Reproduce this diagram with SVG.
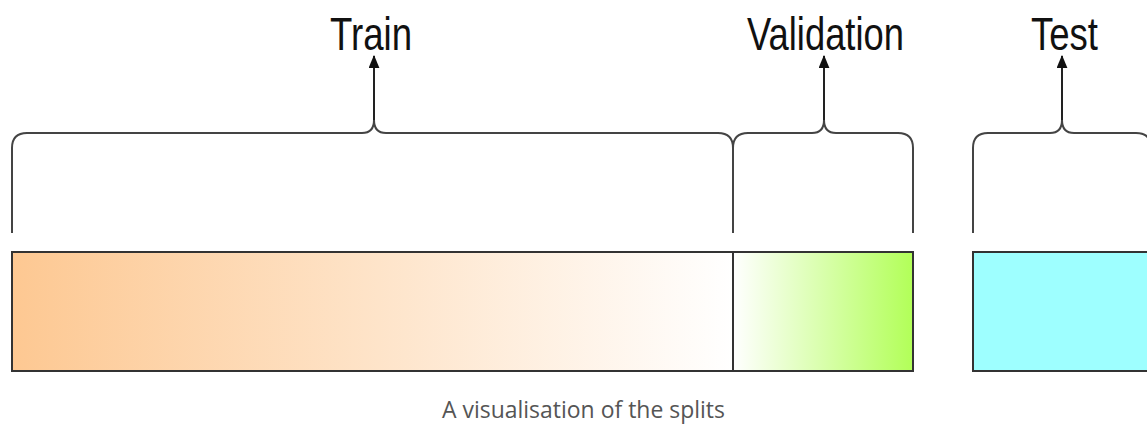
<svg xmlns="http://www.w3.org/2000/svg" width="1147" height="436" viewBox="0 0 1147 436">
  <style>
    .brace { fill: none; stroke: #444; stroke-width: 2; }
    .arrow { fill: none; stroke: #222; stroke-width: 2; }
    .box { stroke: #333; stroke-width: 2; }
    .label { font-family: "Liberation Sans", Arial, sans-serif; font-size: 47px; fill: #111; }
    .caption { font-family: "Open Sans", "Noto Sans", sans-serif; font-size: 23px; fill: #555; }
  </style>
  <defs>
    <linearGradient id="gTrain" x1="0" y1="0" x2="1" y2="0">
      <stop offset="0" stop-color="#FDC892"/>
      <stop offset="1" stop-color="#FFFFFF"/>
    </linearGradient>
    <linearGradient id="gVal" x1="0" y1="0" x2="1" y2="0">
      <stop offset="0" stop-color="#FFFFFF"/>
      <stop offset="1" stop-color="#B2FF58"/>
    </linearGradient>
    <marker id="ah" viewBox="0 0 12 10" refX="11" refY="5" markerWidth="13" markerHeight="11" markerUnits="userSpaceOnUse" orient="auto">
      <path d="M0,0 L12,5 L0,10 Z" fill="#111"/>
    </marker>
  </defs>

  <g id="connectors">
    <path class="brace" d="M12,233 V148 Q12,133 27,133 H362 Q374,133 374,120 Q374,133 386,133 H718 Q733,133 733,148 V233"/>
    <path class="brace" d="M733,148 Q733,133 748,133 H812 Q824,133 824,120 Q824,133 836,133 H898 Q913,133 913,148 V233"/>
    <path class="brace" d="M973,233 V148 Q973,133 988,133 H1050 Q1062,133 1062,120 Q1062,133 1074,133 H1136 Q1151,133 1151,148 V233"/>
    <line class="arrow" x1="374" y1="120" x2="374" y2="56" marker-end="url(#ah)"/>
    <line class="arrow" x1="824" y1="120" x2="824" y2="56" marker-end="url(#ah)"/>
    <line class="arrow" x1="1062" y1="120" x2="1062" y2="56" marker-end="url(#ah)"/>
  </g>

  <g id="train">
    <rect class="box" x="12" y="252" width="721" height="119" fill="url(#gTrain)"/>
    <text class="label" x="330" y="50" textLength="82" lengthAdjust="spacingAndGlyphs">Train</text>
  </g>
  <g id="validation">
    <rect class="box" x="733" y="252" width="180" height="119" fill="url(#gVal)"/>
    <text class="label" x="747" y="50" textLength="157" lengthAdjust="spacingAndGlyphs">Validation</text>
  </g>
  <g id="test">
    <rect class="box" x="973" y="252" width="190" height="119" fill="#9EFFFF"/>
    <text class="label" x="1031" y="50" textLength="67" lengthAdjust="spacingAndGlyphs">Test</text>
  </g>

  <text class="caption" x="442" y="418" textLength="283" lengthAdjust="spacingAndGlyphs">A visualisation of the splits</text>
</svg>
